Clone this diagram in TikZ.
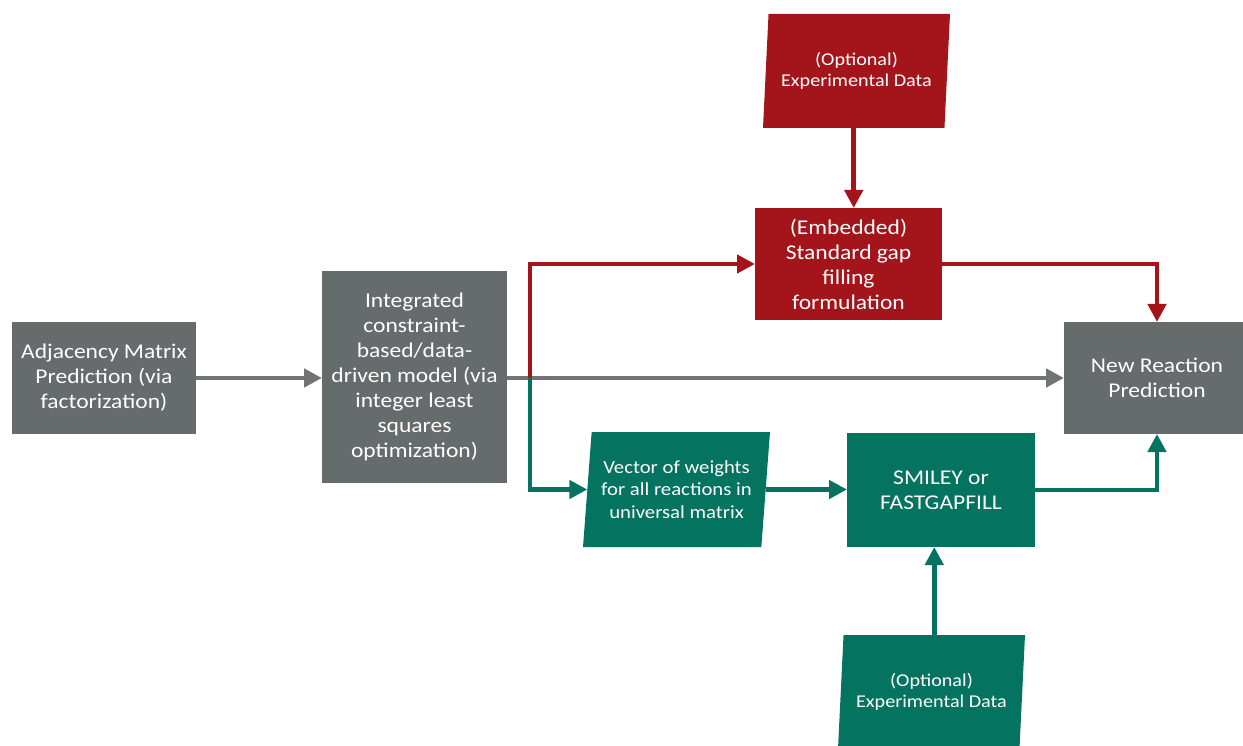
\documentclass[tikz,border=0pt]{standalone}
\usepackage{fontspec}
\setmainfont{Carlito}[FakeStretch=1.12]
\usetikzlibrary{shapes.geometric,arrows.meta}
\definecolor{boxgray}{RGB}{102,107,107}
\definecolor{linegray}{RGB}{112,116,116}
\definecolor{boxred}{RGB}{163,21,27}
\definecolor{boxgreen}{RGB}{4,115,95}
\tikzset{
  rectbox/.style={rectangle, inner sep=0pt, outer sep=0pt, text=white, align=center,
    font=\fontsize{21}{25}\selectfont},
  parabox/.style={trapezium, trapezium left angle=81.5, trapezium right angle=98.5,
    trapezium stretches body, inner sep=0pt, outer sep=0pt, text=white, align=center},
  conn/.style={line width=4.5pt, -{Triangle[length=18pt,width=18pt]}},
}
\begin{document}
\begin{tikzpicture}[x=1pt,y=-1pt]
\useasboundingbox (0,0) rectangle (1243,746);
\clip (0,0) rectangle (1243,746);
% nodes
\node[rectbox, fill=boxgray, minimum width=184pt, minimum height=112pt] (adj) at (104,378)
  {Adjacency Matrix\\Prediction (via\\factorization)};
\node[rectbox, fill=boxgray, minimum width=185pt, minimum height=212pt] (integ) at (414.5,377)
  {Integrated\\constraint-\\based/data-\\driven model (via\\integer least\\squares\\optimization)};
\node[rectbox, fill=boxred, minimum width=187pt, minimum height=112pt] (emb) at (848.5,264)
  {(Embedded)\\Standard gap\\filling\\formulation};
\node[rectbox, fill=boxgray, minimum width=186pt, minimum height=112pt] (newr) at (1157,378)
  {New Reaction\\Prediction};
\node[rectbox, fill=boxgreen, minimum width=188pt, minimum height=114pt] (smiley) at (941,490)
  {SMILEY or\\FASTGAPFILL};
\node[parabox, fill=boxred, minimum width=187pt, minimum height=114pt,
  font=\fontsize{18}{21}\selectfont] (topdata) at (856.5,71)
  {(Optional)\\Experimental Data};
\node[parabox, fill=boxgreen, minimum width=187pt, minimum height=115pt,
  font=\fontsize{18.5}{22.5}\selectfont] (vector) at (676.5,489.5)
  {Vector of weights\\for all reactions in\\universal matrix};
\node[parabox, fill=boxgreen, minimum width=187pt, minimum height=114pt,
  font=\fontsize{18}{21}\selectfont] (botdata) at (931.5,692)
  {(Optional)\\Experimental Data};
\coordinate (split) at (530,378);
% connectors
\draw[conn, draw=linegray] (adj.east) -- (integ.west |- adj.east);
\draw[conn, draw=linegray] (integ.east |- newr.west) -- (newr.west);
\draw[conn, draw=boxred] (split) |- (emb.west);
\draw[conn, draw=boxred] (topdata.bottom side) -- (topdata.bottom side |- emb.north);
\draw[conn, draw=boxred] (emb.east) -| (newr.north);
\draw[conn, draw=boxgreen] (split) |- (vector.west);
\draw[conn, draw=boxgreen] (vector.east) -- (smiley.west |- vector.east);
\draw[conn, draw=boxgreen] (smiley.east) -| (newr.south);
\draw[conn, draw=boxgreen] (botdata.top side) -- (botdata.top side |- smiley.south);
\end{tikzpicture}
\end{document}
